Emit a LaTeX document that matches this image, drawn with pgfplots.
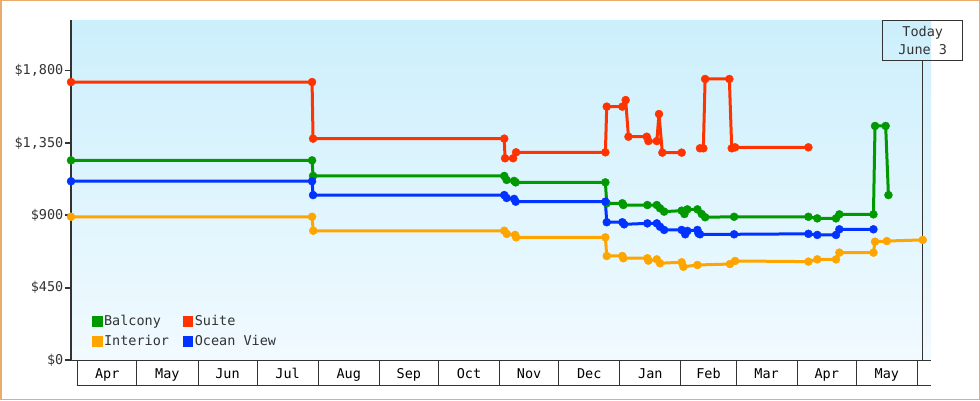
\documentclass[border=0pt]{standalone}
\usepackage{pgfplots}
\pgfplotsset{compat=1.18}
\usepackage{fontspec}
\setmainfont{DejaVu Sans Mono}
\definecolor{balconyc}{RGB}{0,153,0}
\definecolor{suitec}{RGB}{255,51,0}
\definecolor{interiorc}{RGB}{255,165,0}
\definecolor{oceanc}{RGB}{0,51,255}
\definecolor{axisc}{RGB}{51,51,51}
\definecolor{framec}{RGB}{234,172,106}
\definecolor{bgtop}{RGB}{204,239,252}
\definecolor{bgbot}{RGB}{241,250,255}
\newcommand{\fs}{\fontsize{13.5}{16}\selectfont}
\begin{document}
\begin{tikzpicture}[x=1pt,y=1pt]
\useasboundingbox (0,0) rectangle (980,400);
\fill[white] (0,0) rectangle (980,400);
\draw[framec, line width=1.5pt] (0.75,0.75) rectangle (979.25,399.25);
\begin{axis}[
  at={(71pt,40pt)}, anchor=south west,
  scale only axis, width=860pt, height=340pt,
  xmin=-3.4, xmax=432.9, ymin=0, ymax=2115,
  clip=false,
  axis lines*=left,
  axis background/.style={top color=bgtop, bottom color=bgbot, draw=none},
  x axis line style={axisc, line width=0.8pt},
  y axis line style={axisc, line width=1.7pt},
  tick align=outside,
  major tick length=6pt,
  ytick={0,450,900,1350,1800},
  yticklabels={\$0,\$450,\$900,{\$1,350},{\$1,800}},
  ytick style={axisc, line width=1.7pt},
  yticklabel style={font=\fs, text=axisc, inner sep=1.5pt},
  xtick={0,30,61,91,122,153,183,214,244,275,306,334,365,395,426},
  x tick label as interval,
  xticklabels={Apr,May,Jun,Jul,Aug,Sep,Oct,Nov,Dec,Jan,Feb,Mar,Apr,May},
  xtick style={axisc, line width=0.8pt, /pgfplots/major tick length=25pt},
  xticklabel style={font=\fs, text=black, anchor=base, yshift=-12pt},
  minor tick num=0,
  legend columns=2,
  legend cell align=left,
  legend style={at={(0.024,0.033)}, anchor=south west, draw=none, fill=none,
    font=\fs, text=axisc, row sep=5pt, inner sep=0pt,
    nodes={inner sep=1.5pt},
    /tikz/every even column/.append style={column sep=12pt}},
  legend image code/.code={\fill[#1, draw=none] (0pt,-5.3pt) rectangle (10.7pt,5.3pt);},
  every axis plot/.append style={line width=3pt, line join=round, mark=*, mark size=4pt, mark options={line width=0.4pt}},
  unbounded coords=jump,
]
\addplot[balconyc] coordinates {
(-3.4,1242) (118.9,1242) (119.4,1145) (216.4,1145) (217.6,1120) (221.4,1114) (222.2,1105) (267.7,1105) (268.4,975) (276.3,975) (276.8,964) (289.0,964) (293.8,964) (295.4,944) (297.5,923) (306.4,929) (307.8,908) (309.3,937) (314.4,937) (316.6,908) (318.3,888) (333.0,891) (370.7,891) (375.2,881) (384.7,881) (386.4,906) (403.7,906) (404.5,1456) (409.9,1456) (411.3,1026)
};
\addlegendentry{Balcony}
\addplot[suitec] coordinates {
(-3.4,1729) (118.9,1729) (119.4,1377) (216.4,1377) (216.8,1255) (220.9,1255) (222.4,1292) (267.7,1292) (268.4,1576) (276.3,1576) (278.0,1617) (279.4,1389) (288.7,1389) (289.5,1362) (293.8,1362) (294.9,1530) (296.6,1290) (306.4,1290) (310,nan) (315.7,1317) (317.4,1317) (318.3,1748) (330.6,1748) (331.8,1317) (333.5,1323) (370.7,1323)
};
\addlegendentry{Suite}
\addplot[interiorc] coordinates {
(-3.4,891) (118.9,891) (119.5,804) (216.4,804) (217.7,784) (221.9,778) (222.4,763) (267.7,763) (268.4,647) (276.3,647) (276.8,633) (289.0,633) (289.5,618) (293.8,626) (295.4,602) (306.4,608) (307.3,580) (314.4,591) (330.9,597) (333.5,616) (370.7,612) (375.2,626) (384.7,626) (386.4,668) (403.7,668) (404.5,736) (410.5,740) (428.7,747)
};
\addlegendentry{Interior}
\addplot[oceanc] coordinates {
(-3.4,1112) (118.9,1112) (119.4,1026) (216.4,1026) (217.6,1008) (221.4,1002) (222.2,985) (267.7,985) (268.4,857) (276.3,857) (277.2,844) (289.0,850) (293.8,850) (295.4,829) (297.5,809) (306.4,809) (308.2,782) (309.3,803) (314.4,809) (314.9,788) (315.7,782) (333.0,782) (370.7,785) (375.2,778) (384.7,778) (386.4,813) (403.7,813)
};
\addlegendentry{Ocean View}
\draw[axisc, line width=0.8pt] ([yshift=-25pt]rel axis cs:0,0) ++(-1pt,0) -- ([yshift=-25pt]rel axis cs:1,0);
\node[draw=axisc, line width=0.8pt, minimum width=80pt, minimum height=40pt, anchor=north, align=center, inner sep=0pt, font=\fs, text=axisc] (today) at (axis cs:428.7,2115) {Today\\[1.5pt]June 3};
\draw[axisc, line width=0.8pt] (today.south) -- (axis cs:428.7,0);
\end{axis}
\end{tikzpicture}
\end{document}
